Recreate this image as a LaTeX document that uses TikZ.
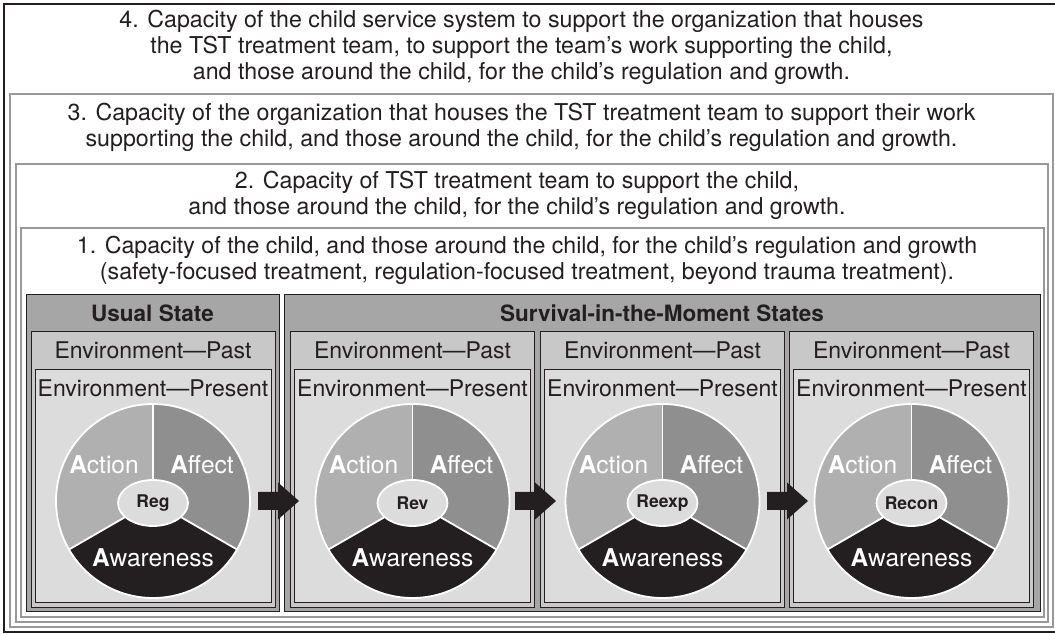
\documentclass[tikz,border=0pt]{standalone}
\usepackage{fontspec}
\setmainfont{TeX Gyre Heros}
\usetikzlibrary{positioning}

\definecolor{ink}{HTML}{231F20}
\definecolor{ringgray}{HTML}{999999}
\definecolor{stategray}{HTML}{A6A6A6}
\definecolor{pastgray}{HTML}{C8C8C8}
\definecolor{presgray}{HTML}{DCDCDC}
\definecolor{actgray}{HTML}{B0B0B0}
\definecolor{affgray}{HTML}{8F8F8F}

\tikzset{
  ring/.style={draw=ringgray, line width=1.6pt},
  statebox/.style={draw=ink, fill=stategray, line width=1pt},
  pastbox/.style={draw=ink, fill=pastgray, line width=1pt},
  presbox/.style={draw=ink, fill=presgray, line width=1pt},
  captxt/.style={text=ink, align=center, inner sep=0pt, font=\fontsize{23.2}{25.8}\selectfont},
  envtxt/.style={text=ink, inner sep=0pt, font=\fontsize{23}{26}\selectfont},
  headtxt/.style={text=ink, inner sep=0pt, font=\bfseries\fontsize{22.5}{26}\selectfont},
  slicetxt/.style={text=white, inner sep=0pt, font=\fontsize{24.5}{26}\selectfont},
  coretxt/.style={text=ink, inner sep=0pt, font=\bfseries\fontsize{17.5}{19}\selectfont},
  divider/.style={draw=white, line width=1.8pt},
}

\begin{document}
\begin{tikzpicture}[x=1pt, y=1pt]
	\useasboundingbox (0,0) rectangle (1055,634);

	% nested capacity levels
	\draw[draw=ink, line width=2pt, fill=white] (4,2) rectangle (1060,630);
	\draw[ring] (10,7) rectangle (1053,540);
	\draw[ring] (16,12) rectangle (1048,470);
	\draw[ring] (21,17) rectangle (1044,406);

	\node[captxt] (lvl4) at (521.5,586.5) {4. Capacity of the child service system to support the organization that houses\\
		the TST treatment team, to support the team’s work supporting the child,\\
		and those around the child, for the child’s regulation and growth.};
	\node[captxt] (lvl3) at (521.5,506.5) {3. Capacity of the organization that houses the TST treatment team to support their work\\
		supporting the child, and those around the child, for the child’s regulation and growth.};
	\node[captxt] (lvl2) at (517,438.5) {2. Capacity of TST treatment team to support the child,\\
		and those around the child, for the child’s regulation and growth.};
	\node[captxt] (lvl1) at (527,374) {1. Capacity of the child, and those around the child, for the child’s regulation and growth\\
		(safety-focused treatment, regulation-focused treatment, beyond trauma treatment).};

	% states
	\draw[statebox] (26,22) rectangle (279,339);
	\draw[statebox] (284,22) rectangle (1040,339);
	\node[headtxt] (usual) at (152.5,321) {Usual State};
	\node[headtxt] (survival) at (662,321) {Survival-in-the-Moment States};

	\foreach \cx/\core/\nm in {153/Reg/reg, 412.5/Rev/rev, 662.5/Reexp/reexp, 911.5/Recon/recon}{
		\draw[pastbox] (\cx-122,26) rectangle (\cx+122,302);
		\draw[presbox] (\cx-118,31) rectangle (\cx+118,264);
		\node[envtxt] (past-\nm) at (\cx,284) {Environment—Past};
		\node[envtxt] (pres-\nm) at (\cx,246) {Environment—Present};

		\fill[actgray] (\cx,133) -- ++(90:97) arc[start angle=90, end angle=210, radius=97] -- cycle;
		\fill[affgray] (\cx,133) -- ++(-30:97) arc[start angle=-30, end angle=90, radius=97] -- cycle;
		\fill[ink] (\cx,133) -- ++(210:97) arc[start angle=210, end angle=330, radius=97] -- cycle;
		\draw[divider] (\cx,133) -- ++(90:97);
		\draw[divider] (\cx,133) -- ++(210:97);
		\draw[divider] (\cx,133) -- ++(330:97);
		\draw[divider] (\cx,133) circle[radius=97];
		\draw[divider, fill=presgray] (\cx,131) ellipse[x radius=35, y radius=23];

		\node[coretxt] (\nm) at (\cx,131) {\core};
		\node[slicetxt] (act-\nm) at (\cx-49,169) {\textbf{A}ction};
		\node[slicetxt] (aff-\nm) at (\cx+49,169) {\textbf{A}ffect};
		\node[slicetxt] (awa-\nm) at (\cx,76) {\textbf{A}wareness};
	}

	% block arrows between the states
	\foreach \t/\n in {258/1, 515/2, 767/3}{
		\coordinate (tail\n) at (\t,133);
		\fill[ink] (tail\n) -- ++(0,9) -- ++(20,0) -- ++(0,9.5) -- ++(21,-18.5) -- ++(-21,-18.5) -- ++(0,9.5) -- ++(-20,0) -- cycle;
	}
\end{tikzpicture}
\end{document}
